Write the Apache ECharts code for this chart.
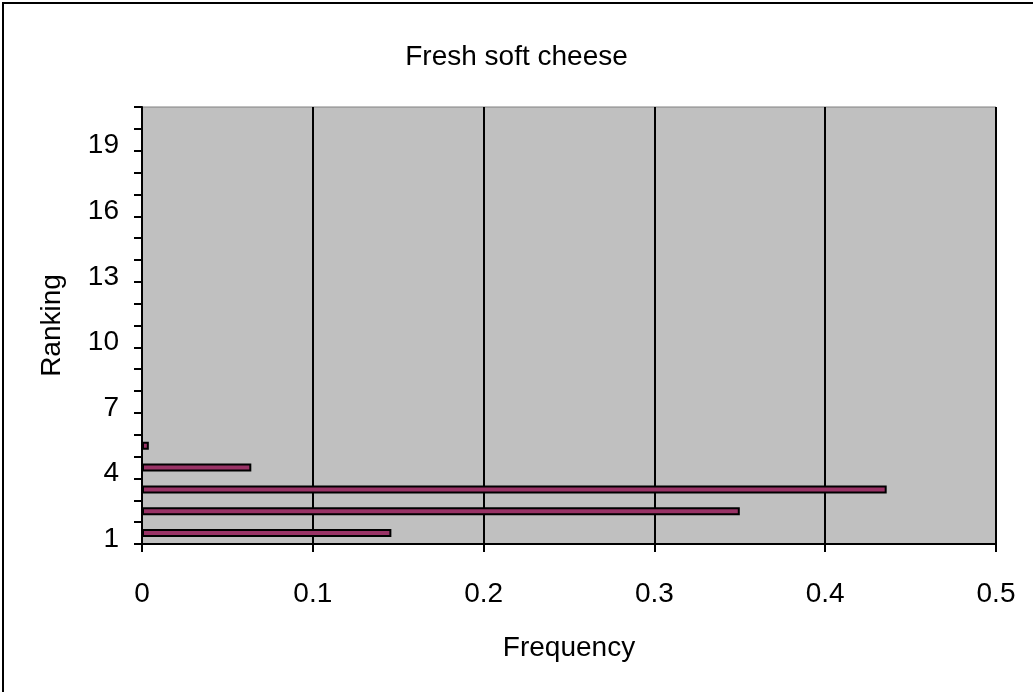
<!DOCTYPE html>
<html>
<head>
<meta charset="utf-8">
<style>
  html, body { margin: 0; padding: 0; background: #ffffff; }
  #chart { width: 1033px; height: 692px; }
</style>
<script src="https://cdn.jsdelivr.net/npm/echarts@6/dist/echarts.min.js"></script>
</head>
<body>
<div id="chart"></div>
<script>
// Ranking categories 1..20
const rankings = Array.from({ length: 20 }, (_, i) => String(i + 1));
// Frequency of each ranking (rankings 6..20 have no observations)
const frequencies = [0.146, 0.350, 0.436, 0.064, 0.004,
  0, 0, 0, 0, 0, 0, 0, 0, 0, 0, 0, 0, 0, 0, 0];
const xTicks = [0, 0.1, 0.2, 0.3, 0.4, 0.5];

const FONT = 'Liberation Sans, Arial, sans-serif';
const FS = 28;
const chart = echarts.init(document.getElementById('chart'), null, { renderer: 'canvas' });

chart.setOption({
  backgroundColor: '#ffffff',
  animation: false,
  title: {
    text: 'Fresh soft cheese',
    left: 'center',
    top: 38,
    textStyle: { fontFamily: FONT, fontSize: FS, fontWeight: 'normal', color: '#000' }
  },
  graphic: [{
    type: 'rect',
    shape: { x: 3, y: 3, width: 1200, height: 1200 },
    style: { fill: 'none', stroke: '#000', lineWidth: 2 },
    silent: true
  }],
  grid: {
    left: 142, right: 37, top: 107, bottom: 148,
    show: true,
    backgroundColor: '#c0c0c0',
    borderColor: '#808080',
    borderWidth: 1
  },
  xAxis: {
    type: 'value',
    min: xTicks[0],
    max: xTicks[xTicks.length - 1],
    interval: 0.1,
    name: 'Frequency',
    nameLocation: 'middle',
    nameGap: 90,
    nameTextStyle: { fontFamily: FONT, fontSize: FS, color: '#000' },
    axisLine: { show: true, lineStyle: { color: '#000', width: 2 } },
    axisTick: { show: true, inside: false, length: 8, lineStyle: { color: '#000', width: 2 } },
    axisLabel: {
      margin: 36,
      fontFamily: FONT, fontSize: FS, color: '#000',
      formatter: v => String(Math.round(v * 10) / 10)
    },
    splitLine: { show: true, lineStyle: { color: '#000', width: 2 } }
  },
  yAxis: {
    type: 'category',
    data: rankings,
    name: 'Ranking',
    nameLocation: 'middle',
    nameGap: 76,
    nameRotate: 90,
    nameTextStyle: { fontFamily: FONT, fontSize: FS, color: '#000' },
    axisLine: { show: true, lineStyle: { color: '#000', width: 2 } },
    axisTick: { show: true, interval: 0, alignWithLabel: false, length: 8, lineStyle: { color: '#000', width: 2 } },
    axisLabel: {
      interval: 2,
      margin: 23,
      verticalAlign: 'top',
      lineHeight: 12,
      fontFamily: FONT, fontSize: FS, color: '#000'
    },
    splitLine: { show: false }
  },
  series: [{
    type: 'bar',
    data: frequencies,
    barWidth: 8,
    itemStyle: { color: '#993366', borderColor: '#000', borderWidth: 2 }
  }]
});
</script>
</body>
</html>
